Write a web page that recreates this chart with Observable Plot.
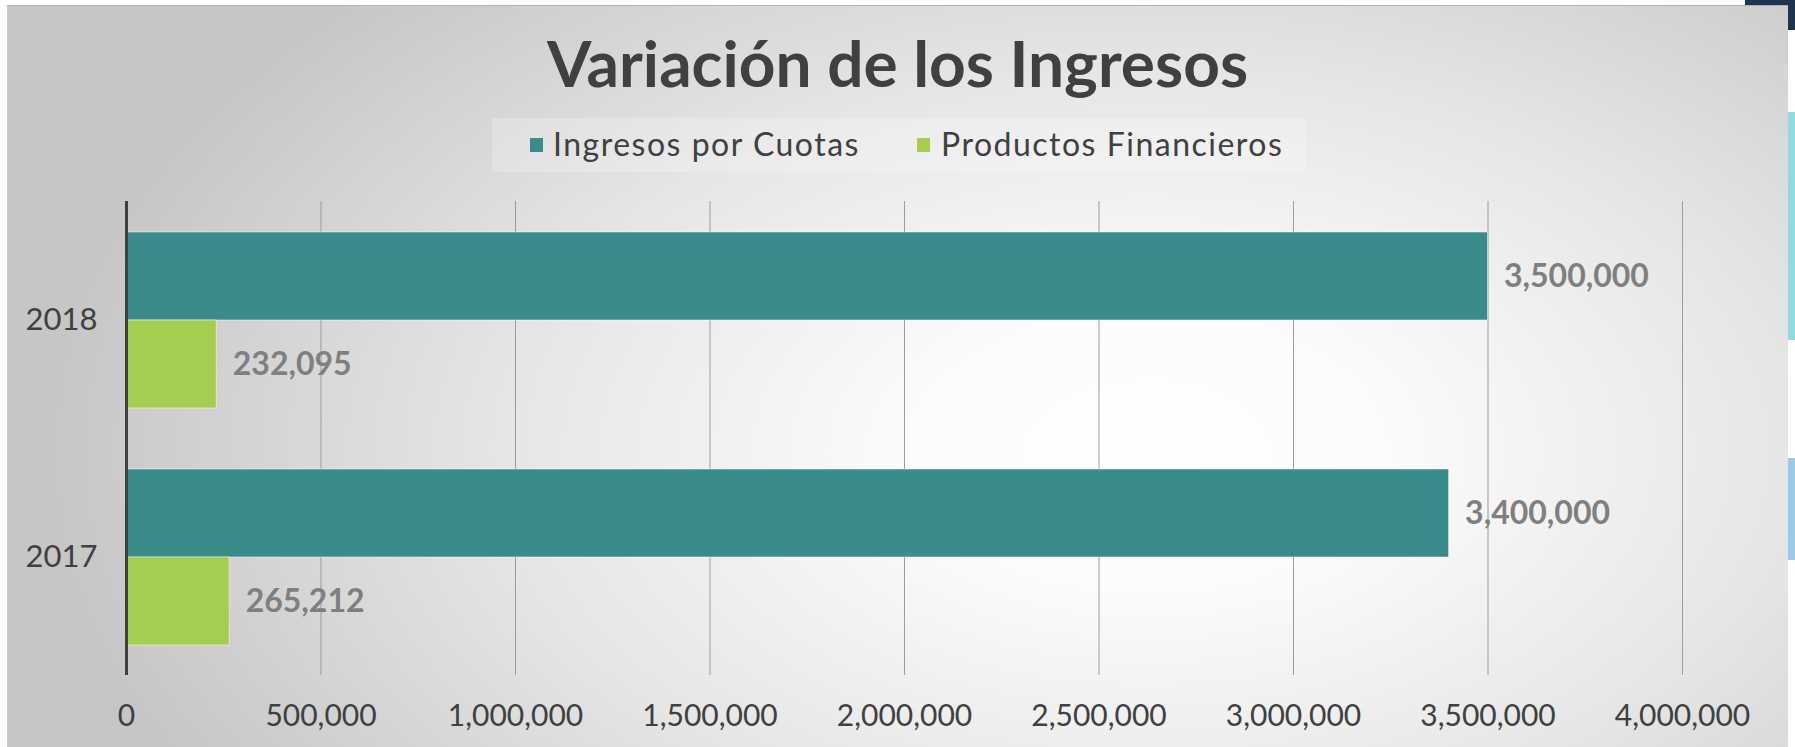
<!DOCTYPE html>
<html><head><meta charset="utf-8">
<script src="https://cdn.jsdelivr.net/npm/d3@7"></script>
<script src="https://cdn.jsdelivr.net/npm/@observablehq/plot@0.6"></script>
<style>
html,body{margin:0;padding:0;background:#fff;}
#stage{position:relative;width:1795px;height:747px;overflow:hidden;background:#fff;font-family:Lato,"Open Sans",sans-serif;}
#navy{position:absolute;left:1745px;top:0;width:50px;height:30px;background:#1f3350;}
#cyan{position:absolute;left:1786px;top:112px;width:9px;height:228px;background:#8fdbe0;}
#blue{position:absolute;left:1786px;top:458px;width:9px;height:102px;background:#9cc9e6;}
#panel{position:absolute;left:7px;top:5px;width:1781px;height:742px;border-top:1px solid #b0b0b0;
  background:radial-gradient(ellipse 62% 88% at 64% 60%, #ffffff 0%, #fbfbfb 22%, #e6e6e6 58%, #c6c6c6 100%);}
#title{position:absolute;left:0;top:31px;width:1795px;text-align:center;font-size:64px;line-height:64px;font-weight:700;color:#404040;}
#legendbg{position:absolute;left:492px;top:118px;width:813px;height:54px;background:rgba(255,255,255,0.22);}
.sw{position:absolute;top:138px;width:13px;height:14px;}
.lt{position:absolute;top:128px;font-size:32px;line-height:32px;letter-spacing:1.5px;color:#404040;white-space:nowrap;}
#chart{position:absolute;left:0;top:180px;}
</style>
</head><body>
<div id="stage">
  <div id="navy"></div><div id="cyan"></div><div id="blue"></div>
  <div id="panel"></div>
  <div id="title">Variación de los Ingresos</div>
  <div id="legendbg"></div>
  <div id="legend"></div>
  <div id="chart"></div>
</div>
<script>
const years = ["2018", "2017"];
const series = ["Ingresos por Cuotas", "Productos Financieros"];
const cuotas = [3500000, 3400000];
const productos = [232095, 265212];
const xTicks = [0, 500000, 1000000, 1500000, 2000000, 2500000, 3000000, 3500000, 4000000];
const colors = ["#3b8b8a", "#a5cd50"];

const rows = years.flatMap((y, i) => [
  {year: y, series: series[0], value: cuotas[i]},
  {year: y, series: series[1], value: productos[i]}
]);
const fmt = d3.format(",");

// legend (HTML)
const legend = document.getElementById("legend");
const legendPos = [{sw: 530, tx: 553}, {sw: 917, tx: 941}];
series.forEach((s, i) => {
  const sw = document.createElement("div");
  sw.className = "sw"; sw.style.left = legendPos[i].sw + "px"; sw.style.background = colors[i];
  const tx = document.createElement("div");
  tx.className = "lt"; tx.style.left = legendPos[i].tx + "px"; tx.textContent = s;
  legend.appendChild(sw); legend.appendChild(tx);
});

const chart = Plot.plot({
  width: 1795, height: 567,
  marginLeft: 126, marginRight: 113, marginTop: 20, marginBottom: 72,
  style: {background: "transparent", fontFamily: "Lato, sans-serif", color: "#404040", overflow: "visible"},
  facet: {data: rows, y: "year"},
  fy: {domain: years, padding: 0, label: null},
  y: {domain: series, paddingInner: 0, paddingOuter: 0.3343, axis: null},
  x: {domain: [0, 4000000], label: null},
  color: {domain: series, range: colors},
  marks: [
    Plot.gridX(xTicks, {stroke: "#9c9c9c", strokeOpacity: 1, strokeWidth: 1}),
    Plot.barX(rows, {x: "value", y: "series", fill: "series", stroke: "white", strokeOpacity: 0.5, strokeWidth: 1}),
    Plot.ruleX([0], {stroke: "#404040", strokeWidth: 3}),
    Plot.text(rows, {x: "value", y: "series", text: d => fmt(d.value), textAnchor: "start", dx: 16,
      fill: "#7f7f7f", fontWeight: "bold", fontSize: 32}),
    Plot.axisX({ticks: xTicks, tickFormat: fmt, tickSize: 0, tickPadding: 29, fontSize: 30, color: "#404040", label: null}),
    Plot.axisFy({anchor: "left", tickSize: 0, tickPadding: 29, fontSize: 31, color: "#404040", label: null})
  ]
});
document.getElementById("chart").appendChild(chart);
</script>
</body></html>
